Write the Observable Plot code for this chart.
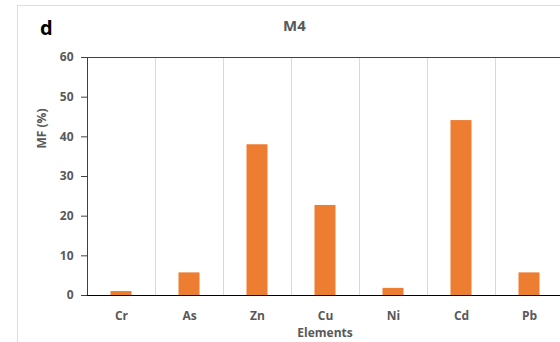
<!DOCTYPE html>
<html><head><meta charset="utf-8">
<script src="https://cdn.jsdelivr.net/npm/d3@7"></script>
<script src="https://cdn.jsdelivr.net/npm/@observablehq/plot@0.6"></script>
<style>
html,body{margin:0;padding:0;background:#fff;overflow:hidden;}
#wrap{position:relative;width:560px;height:342px;overflow:hidden;}
#frame{position:absolute;left:17px;top:5px;width:700px;height:500px;border-left:1.5px solid #dedede;border-top:1.5px solid #dedede;}
#chart{position:absolute;left:0;top:0;}
.t{position:absolute;font-family:"Open Sans",sans-serif;font-weight:bold;white-space:nowrap;line-height:1;}
</style></head>
<body>
<div id="wrap">
  <div id="frame"></div>
  <div id="chart"></div>
  <div class="t" id="letter" style="left:40px;top:18px;font-size:20px;color:#000;">d</div>
  <div class="t" id="title" style="left:283px;top:18px;font-size:15px;color:#595959;">M4</div>
  <div class="t" id="xlabel" style="left:325px;top:327px;font-size:12px;color:#595959;transform:translateX(-50%);">Elements</div>
</div>
<script>
const elements = ["Cr", "As", "Zn", "Cu", "Ni", "Cd", "Pb"];
const mfValues = [1.0, 5.7, 38.0, 22.7, 1.8, 44.1, 5.7];
const yTicks = [0, 10, 20, 30, 40, 50, 60];
const yLabel = "MF (%)";

const data = elements.map((e, i) => ({element: e, mf: mfValues[i]}));

const chart = Plot.plot({
  width: 560,
  height: 342,
  marginLeft: 87,
  marginTop: 57,
  marginBottom: 47,
  marginRight: 0,
  x: {domain: elements, range: [87, 563], padding: 0, label: null},
  y: {domain: [0, 60], label: null},
  style: {fontFamily: "Open Sans, sans-serif", fontSize: "12px", fontWeight: "bold", color: "#595959", background: "transparent", overflow: "visible"},
  marks: [
    Plot.ruleX(elements.slice(1), {x: d => d, dx: -34, stroke: "#d9d9d9", strokeWidth: 1}),
    Plot.barY(data, {x: "element", y: "mf", fill: "#ED7D31", insetLeft: 23.5, insetRight: 23.5}),
    Plot.ruleY([60], {stroke: "#404040", strokeWidth: 1}),
    Plot.ruleX([elements[0]], {dx: -34, stroke: "#404040", strokeWidth: 1}),
    Plot.ruleY([0], {stroke: "#000", strokeWidth: 1.2}),
    Plot.axisY({ticks: yTicks, tickSize: 6, tickPadding: 8, stroke: "#404040", label: null}),
    Plot.axisX({tickSize: 0, tickPadding: 16, label: null}),
    Plot.text([yLabel], {frameAnchor: "left", dx: -45, dy: -28, rotate: -90, fontSize: 12, fontWeight: "bold", fill: "#595959"})
  ]
});
document.getElementById("chart").appendChild(chart);
</script>
</body></html>
